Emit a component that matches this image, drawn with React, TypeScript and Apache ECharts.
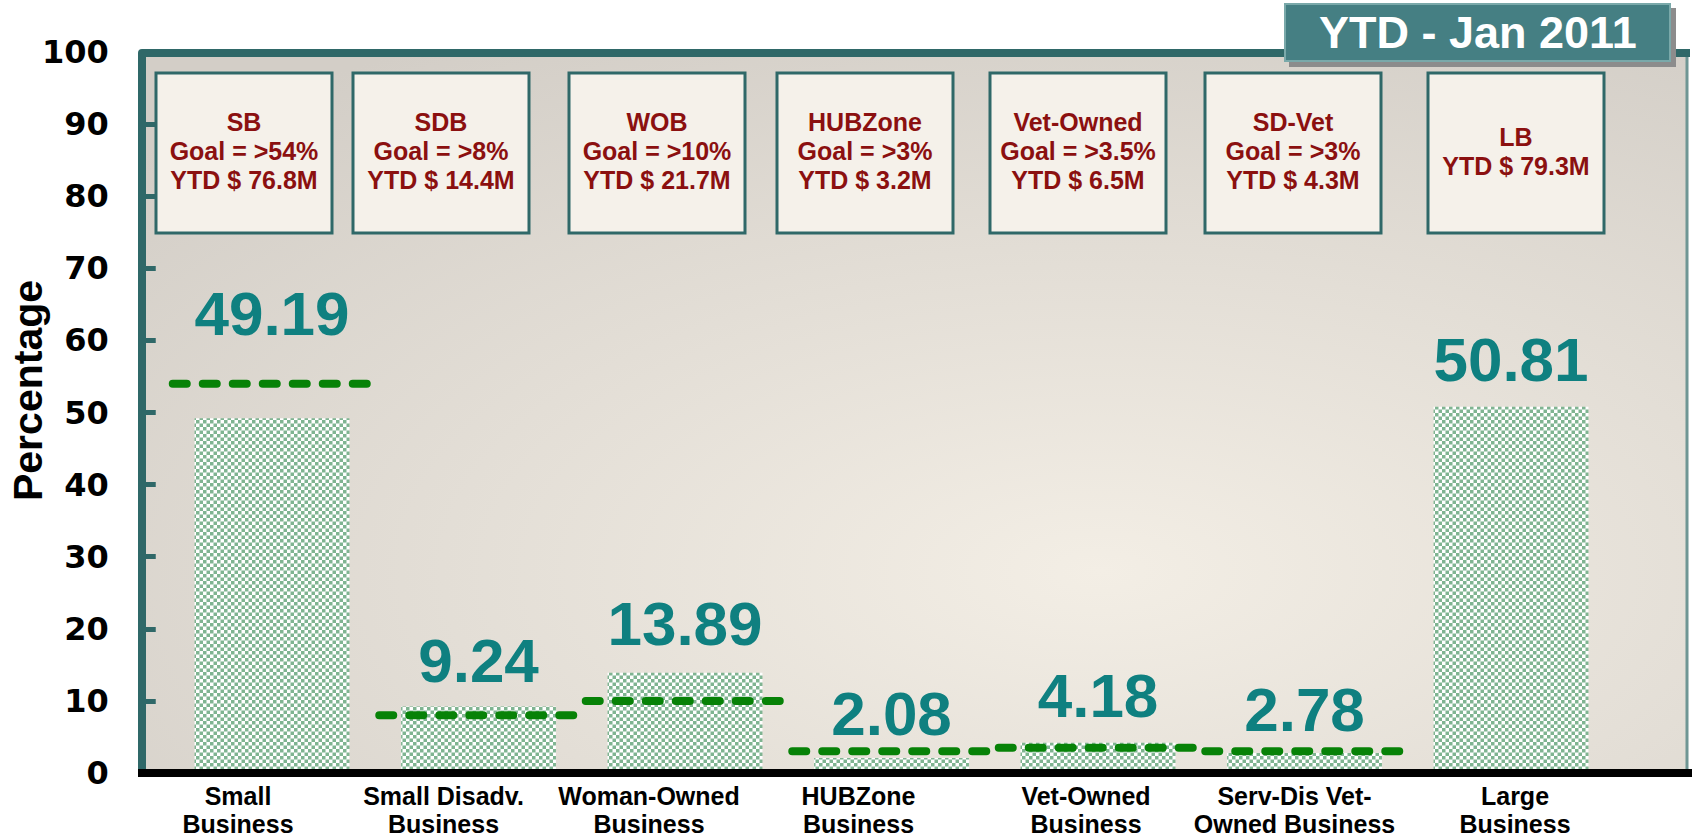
import React, { useEffect, useRef } from 'react';
import * as echarts from 'echarts';

// ---------- data ----------
const categories = [
  'Small\nBusiness',
  'Small Disadv.\nBusiness',
  'Woman-Owned\nBusiness',
  'HUBZone\nBusiness',
  'Vet-Owned\nBusiness',
  'Serv-Dis Vet-\nOwned Business',
  'Large\nBusiness',
];
const percentages = [49.19, 9.24, 13.89, 2.08, 4.18, 2.78, 50.81];
const goals: (number | null)[] = [54, 8, 10, 3, 3.5, 3, null];
const boxHeads = ['SB', 'SDB', 'WOB', 'HUBZone', 'Vet-Owned', 'SD-Vet', 'LB'];
const ytdMillions = [76.8, 14.4, 21.7, 3.2, 6.5, 4.3, 79.3];
const yMin = 0;
const yMax = 100;
const yStep = 10;
const chartTitle = 'YTD - Jan 2011';
const yAxisName = 'Percentage';

// ---------- layout (not data) ----------
const labelDistance = [74, 15, 18, 14, 16, 12, 16];
const labelShift = [-34, -35, -36, -33, -12, -10, 4];
const boxLeft = [156, 353, 569, 777, 990, 1205, 1428];
const BOX_W = 176;
const BOX_TOP = 73;
const BOX_H = 160;

const FONT = '"Liberation Sans", Arial, Helvetica, sans-serif';
const TEAL = '#2f6868';

function checkerURL(): string {
  const c = document.createElement('canvas');
  c.width = 7;
  c.height = 7;
  const ctx = c.getContext('2d')!;
  ctx.fillStyle = '#ffffff';
  ctx.fillRect(0, 0, 7, 7);
  ctx.fillStyle = '#7fb491';
  ctx.fillRect(0, 0, 3.5, 3.5);
  ctx.fillRect(3.5, 3.5, 3.5, 3.5);
  return c.toDataURL();
}

export default function App() {
  const ref = useRef<HTMLDivElement>(null);

  useEffect(() => {
    document.body.style.margin = '0';
    const chart = echarts.init(ref.current!, null, { renderer: 'svg' });

    const rich: Record<string, any> = {};
    labelShift.forEach((s, i) => {
      rich['s' + i] = {
        fontSize: 25,
        fontWeight: 'bold',
        color: '#000',
        fontFamily: FONT,
        lineHeight: 28,
        padding: s < 0 ? [0, -2 * s, 0, 0] : [0, 0, 0, 2 * s],
      };
    });

    const boxes: any[] = [];
    boxHeads.forEach((h, i) => {
      const lines = [h];
      if (goals[i] != null) lines.push(`Goal = >${goals[i]}%`);
      lines.push(`YTD $ ${ytdMillions[i]}M`);
      boxes.push({
        type: 'rect',
        z: 1,
        shape: { x: boxLeft[i], y: BOX_TOP, width: BOX_W, height: BOX_H },
        style: { fill: '#f5f1ea', stroke: TEAL, lineWidth: 3 },
      });
      boxes.push({
        type: 'text',
        z: 2,
        x: boxLeft[i] + BOX_W / 2,
        y: BOX_TOP + BOX_H / 2 - 2,
        style: {
          text: lines.join('\n'),
          fill: '#8b1010',
          font: `bold 25px ${FONT}`,
          lineHeight: 29,
          align: 'center',
          verticalAlign: 'middle',
        },
      });
    });

    const pattern = checkerURL();

    chart.setOption({
      animation: false,
      backgroundColor: '#ffffff',
      title: {
        text: chartTitle,
        left: 1285,
        top: 4,
        padding: [6, 34, 6, 34],
        backgroundColor: '#457f83',
        borderColor: '#7aa9aa',
        borderWidth: 2,
        shadowColor: '#8c8c8c',
        shadowOffsetX: 5,
        shadowOffsetY: 5,
        shadowBlur: 0,
        z: 20,
        textStyle: { color: '#ffffff', fontSize: 45, fontWeight: 'bold', fontFamily: FONT, lineHeight: 45 },
      },
      grid: { left: 168.75, right: 77.75, top: 52, bottom: 64, outerBoundsMode: 'none', containLabel: false },
      xAxis: {
        type: 'category',
        data: categories,
        axisLine: { show: false },
        axisTick: { show: false },
        axisLabel: {
          interval: 0,
          margin: 9,
          formatter: (value: string, index: number) =>
            value
              .split('\n')
              .map((l) => `{s${index}|${l}}`)
              .join('\n'),
          rich,
        },
      },
      yAxis: {
        type: 'value',
        min: yMin,
        max: yMax,
        interval: yStep,
        offset: 27,
        name: yAxisName,
        nameLocation: 'middle',
        nameGap: 93,
        nameMoveOverlap: false,
        nameTextStyle: {
          fontSize: 41,
          fontWeight: 'bold',
          color: '#000',
          fontFamily: FONT,
          padding: [0, 0, 0, 44],
        },
        axisLine: { show: false },
        axisTick: { show: true, inside: true, length: 14, lineStyle: { color: TEAL, width: 5 } },
        axisLabel: { fontSize: 32, fontWeight: 'bold', color: '#000', margin: 33, fontFamily: '"DejaVu Sans", ' + FONT },
        splitLine: { show: false },
      },
      graphic: [
        {
          type: 'rect',
          z: -5,
          shape: { x: 142, y: 53, width: 1545, height: 720 },
          style: {
            fill: new echarts.graphic.RadialGradient(0.62, 0.72, 0.85, [
              { offset: 0, color: '#f3eee5' },
              { offset: 1, color: '#d3cec7' },
            ]),
          },
        },
        {
          type: 'line',
          z: 3,
          shape: { x1: 1687, y1: 53, x2: 1687, y2: 773 },
          style: { stroke: '#6f9694', lineWidth: 3 },
        },
        {
          type: 'polyline',
          z: 3,
          shape: { points: [[142, 773], [142, 53], [1690, 53]] },
          style: { stroke: TEAL, lineWidth: 8, lineJoin: 'round', fill: null },
        },
        ...boxes,
        {
          type: 'line',
          z: 10,
          shape: { x1: 138, y1: 773, x2: 1692, y2: 773 },
          style: { stroke: '#000', lineWidth: 8 },
        },
      ],
      series: [
        {
          type: 'bar',
          barWidth: '75%',
          z: 2,
          itemStyle: {
            color: { image: pattern, repeat: 'repeat', imageWidth: 7, imageHeight: 7 },
          },
          label: {
            show: true,
            position: 'top',
            fontSize: 62,
            fontWeight: 'bold',
            color: '#0f8080',
            fontFamily: FONT,
          },
          data: percentages.map((v, i) => ({ value: v, label: { distance: labelDistance[i] } })),
        },
        {
          type: 'custom',
          z: 4,
          clip: false,
          data: goals.map((g, i) => [i, g == null ? NaN : g]),
          renderItem: (params: any, api: any) => {
            const v = api.value(1);
            if (v == null || isNaN(v)) return null;
            const p = api.coord([api.value(0), v]);
            const w = api.size([1, 0])[0];
            return {
              type: 'line',
              shape: { x1: p[0] - w / 2 + 4, y1: p[1], x2: p[0] + w / 2 - 2, y2: p[1] },
              style: { stroke: '#078207', lineWidth: 8, lineDash: [14, 16], lineCap: 'round' },
            };
          },
        },
      ],
    });

    return () => chart.dispose();
  }, []);

  return <div ref={ref} style={{ width: 1692, height: 837 }} />;
}
